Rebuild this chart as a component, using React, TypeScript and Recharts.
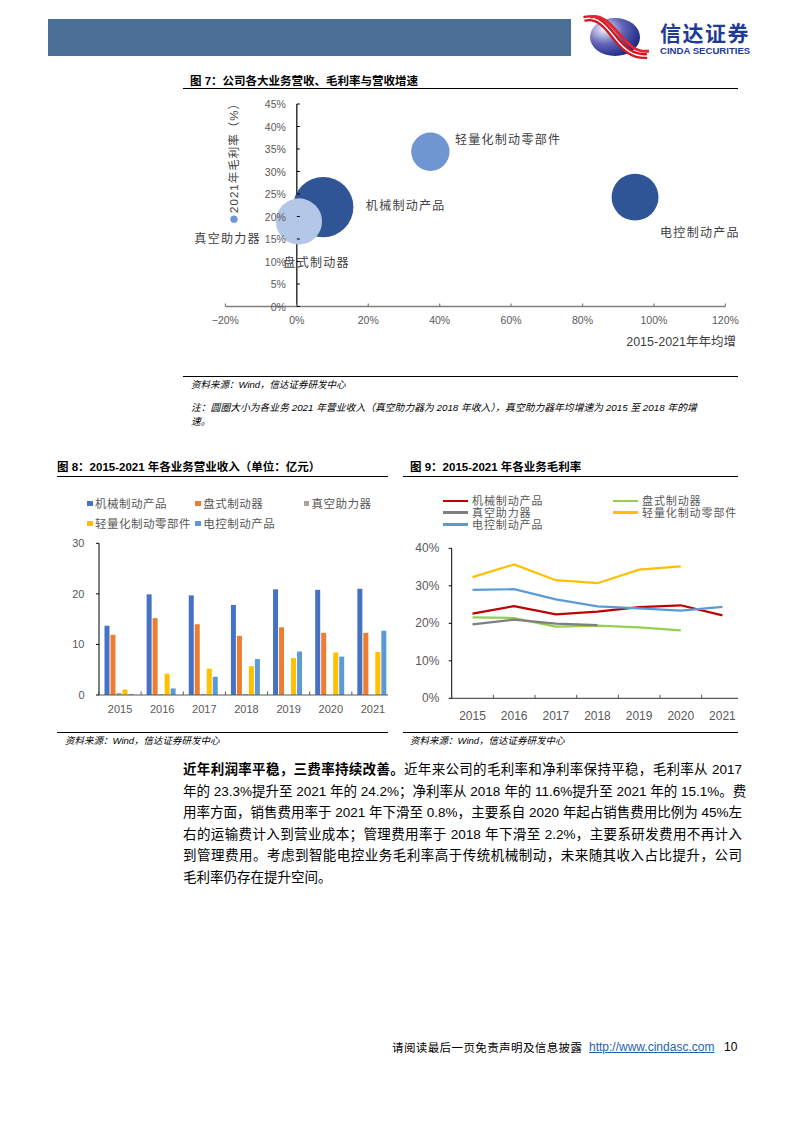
import React from 'react';
import {
  ScatterChart,
  Scatter,
  XAxis,
  YAxis,
  ZAxis,
  BarChart,
  Bar,
  LineChart,
  Line,
  Legend,
} from 'recharts';

// ---------------- Figure 7 data ----------------
const bubbleNames = ['机械制动产品', '盘式制动器', '轻量化制动零部件', '电控制动产品', '真空助力器'];
const bubbleGrowth = [7.4, 0.6, 37.4, 94.7, -17.6]; // 2015-2021 CAGR %
const bubbleMargin = [22.1, 18.9, 34.4, 24.3, 19.4]; // 2021 gross margin %
const bubbleRevenue = [21.0, 12.3, 8.5, 12.7, 0.3]; // revenue (bubble size)
const growthTicks = [-20, 0, 20, 40, 60, 80, 100, 120];
const marginTicks = [0, 5, 10, 15, 20, 25, 30, 35, 40, 45];

// ---------------- Figure 8 data ----------------
const years = ['2015', '2016', '2017', '2018', '2019', '2020', '2021'];
const seriesNames = ['机械制动产品', '盘式制动器', '真空助力器', '轻量化制动零部件', '电控制动产品'];
const revMech = [13.7, 19.9, 19.7, 17.8, 20.9, 20.8, 21.0];
const revDisc = [11.9, 15.2, 14.0, 11.7, 13.4, 12.3, 12.3];
const revVac = [0.4, 0.2, 0.2, 0.2, null, null, null];
const revLight = [1.1, 4.2, 5.2, 5.7, 7.3, 8.4, 8.5];
const revElec = [0.2, 1.3, 3.6, 7.1, 8.6, 7.6, 12.7];
const revTicks = [0, 10, 20, 30];

// ---------------- Figure 9 data ----------------
const gmMech = [22.6, 24.6, 22.4, 23.1, 24.3, 24.8, 22.1];
const gmDisc = [21.6, 21.4, 19.1, 19.4, 18.9, 18.1, null];
const gmVac = [19.7, 21.0, 19.9, 19.5, null, null, null];
const gmLight = [32.3, 35.7, 31.5, 30.7, 34.3, 35.2, null];
const gmElec = [28.9, 29.1, 26.4, 24.5, 24.0, 23.4, 24.4];
const gmTicks = [0, 10, 20, 30, 40];

// ---------------- styles / layout ----------------
const CJK = '"Noto Sans CJK SC", sans-serif';
const MIX = '"Liberation Sans", "Noto Sans CJK SC", sans-serif';
const LAT = '"Liberation Sans", Arial, sans-serif';
const bubbleColors = ['#2f5597', '#b4c7e7', '#7096d2', '#2f5597', '#6f95d6'];
const bubbleLabelOffset: Record<string, [number, number]> = {
  机械制动产品: [42.6, -2.7],
  盘式制动器: [-15.6, 40],
  轻量化制动零部件: [24.5, -13.7],
  电控制动产品: [25, 34.3],
  真空助力器: [-39.6, 18.3],
};
const barColors = ['#4472c4', '#ed7d31', '#a5a5a5', '#ffc000', '#5b9bd5'];
const lineColors = ['#c00000', '#92d050', '#7f7f7f', '#ffc000', '#5b9bd5'];

// scatter chart frame
const SC_W = 560;
const SC_H = 270;
const SC_MARGIN = { top: 14, right: 17.6, bottom: 23.5, left: 42.4 };
const SC_XAXIS_H = 30;
const SC_PLOT_H = SC_H - SC_MARGIN.top - SC_MARGIN.bottom - SC_XAXIS_H;

// ---------------- built tables ----------------
const bubbles = bubbleNames.map((name, i) => ({
  name,
  x: bubbleGrowth[i],
  y: bubbleMargin[i],
  z: bubbleRevenue[i],
}));
const yAxisOrigin = [{ x: 0, y: marginTicks[0], z: 0 }];
const yTickPoints = marginTicks.map((v) => ({ x: 0, y: v, z: 0 }));

const revenueRows = years.map((year, i) => ({
  year,
  mech: revMech[i],
  disc: revDisc[i],
  vac: revVac[i],
  light: revLight[i],
  elec: revElec[i],
}));
const marginRows = years.map((year, i) => ({
  year,
  mech: gmMech[i],
  disc: gmDisc[i],
  vac: gmVac[i],
  light: gmLight[i],
  elec: gmElec[i],
}));
const seriesKeys = ['mech', 'disc', 'vac', 'light', 'elec'];
const legendOrder = (item: any) => seriesNames.indexOf(item.value);

// ---------------- custom renderers ----------------
// value axis of the bubble chart, drawn at x = 0 from the origin up the full plot height
const AxisLineShape = (p: any) => (
  <line x1={p.cx} x2={p.cx} y1={p.cy} y2={p.cy - SC_PLOT_H} stroke="#000" strokeWidth={1.2} />
);

const BubbleShape = (p: any) => {
  const r = p.width ? p.width / 2 : Math.sqrt(Math.max(p.size || 0, 0) / Math.PI);
  const name = p.payload?.name;
  const off = bubbleLabelOffset[name] || [0, 0];
  const fill = bubbleColors[bubbleNames.indexOf(name)];
  return (
    <g>
      <circle cx={p.cx} cy={p.cy} r={r} fill={fill} />
      <text
        x={p.cx + off[0]}
        y={p.cy + off[1]}
        dominantBaseline="central"
        fontSize={12}
        letterSpacing={1.3}
        fill="#404040"
        fontFamily={CJK}
      >
        {name}
      </text>
    </g>
  );
};

const MarginTick = (p: any) => (
  <g>
    <line x1={p.cx} x2={p.cx + 3} y1={p.cy} y2={p.cy} stroke="#000" strokeWidth={1} />
    <text
      x={p.cx - 11}
      y={p.cy}
      textAnchor="end"
      dominantBaseline="central"
      fontSize={10.5}
      fill="#595959"
      fontFamily={LAT}
    >
      {`${p.payload.y}%`}
    </text>
  </g>
);

const fmtGrowth = (v: number) => (v < 0 ? `\u2212${Math.abs(v)}%` : `${v}%`);

const GrowthTick = (p: any) => (
  <g>
    <line x1={p.x} x2={p.x} y1={p.y} y2={p.y - 3} stroke="#7f7f7f" strokeWidth={1.2} />
    <text
      x={p.x}
      y={p.y + 13.5}
      textAnchor="middle"
      dominantBaseline="central"
      fontSize={10.5}
      fill="#595959"
      fontFamily={LAT}
    >
      {fmtGrowth(p.payload.value)}
    </text>
  </g>
);

const makeCatTick = (dyText: number, fontSize: number, fallbackHalf: number) => (p: any) => {
  const half = p.payload && p.payload.offset ? p.payload.offset : fallbackHalf;
  return (
    <g>
      <line x1={p.x - half} x2={p.x - half} y1={p.y} y2={p.y - 3.5} stroke="#595959" strokeWidth={1} />
      <text
        x={p.x}
        y={p.y + dyText}
        textAnchor="middle"
        dominantBaseline="central"
        fontSize={fontSize}
        fill="#595959"
        fontFamily={LAT}
      >
        {p.payload.value}
      </text>
    </g>
  );
};

const makeValueTick = (dxText: number, fontSize: number, suffix: string) => (p: any) => (
  <g>
    <line x1={p.x - 3} x2={p.x} y1={p.y} y2={p.y} stroke="#000" strokeWidth={1} />
    <text
      x={p.x - dxText}
      y={p.y}
      textAnchor="end"
      dominantBaseline="central"
      fontSize={fontSize}
      fill="#595959"
      fontFamily={LAT}
    >
      {`${p.payload.value}${suffix}`}
    </text>
  </g>
);

const sortPayload = (payload: any[]) =>
  [...(payload || [])].sort((a, b) => seriesNames.indexOf(a.value) - seriesNames.indexOf(b.value));

const BarLegend = (props: any) => (
  <div style={{ display: 'flex', flexWrap: 'wrap', width: 330 }}>
    {sortPayload(props.payload).map((item: any) => (
      <div
        key={item.value}
        style={{ width: 108.3, height: 20, display: 'flex', alignItems: 'center' }}
      >
        <span
          style={{ width: 5.5, height: 5.5, background: item.color, marginRight: 2.5, flex: 'none' }}
        />
        <span
          style={{
            fontSize: 11.5,
            color: '#595959',
            letterSpacing: 0.5,
            fontFamily: CJK,
            whiteSpace: 'nowrap',
            lineHeight: '14px',
          }}
        >
          {item.value}
        </span>
      </div>
    ))}
  </div>
);

const LineLegend = (props: any) => (
  <div style={{ display: 'flex', flexWrap: 'wrap', width: 340 }}>
    {sortPayload(props.payload).map((item: any) => (
      <div
        key={item.value}
        style={{ width: 170, height: 11.7, display: 'flex', alignItems: 'center' }}
      >
        <span
          style={{ width: 25, height: 2.5, background: item.color, marginRight: 4, flex: 'none' }}
        />
        <span
          style={{
            fontSize: 11,
            color: '#595959',
            letterSpacing: 0.9,
            fontFamily: CJK,
            whiteSpace: 'nowrap',
            lineHeight: '11.7px',
          }}
        >
          {item.value}
        </span>
      </div>
    ))}
  </div>
);

// ---------------- page helpers ----------------
const abs = (left: number, top: number, extra: React.CSSProperties = {}): React.CSSProperties => ({
  position: 'absolute',
  left,
  top,
  ...extra,
});

const paragraphLines = [
  '年的 23.3%提升至 2021 年的 24.2%；净利率从 2018 年的 11.6%提升至 2021 年的 15.1%。费',
  '用率方面，销售费用率于 2021 年下滑至 0.8%，主要系自 2020 年起占销售费用比例为 45%左',
  '右的运输费计入到营业成本；管理费用率于 2018 年下滑至 2.2%，主要系研发费用不再计入',
  '到管理费用。考虑到智能电控业务毛利率高于传统机械制动，未来随其收入占比提升，公司',
];

const Hr = ({ left, top, width }: { left: number; top: number; width: number }) => (
  <div style={abs(left, top, { width, height: 0, borderTop: '1.3px solid #000' })} />
);

const Title = ({ left, top, text }: { left: number; top: number; text: string }) => (
  <div
    style={abs(left, top, {
      fontFamily: MIX,
      fontWeight: 700,
      fontSize: 11.5,
      lineHeight: '14px',
      color: '#000',
      whiteSpace: 'nowrap',
    })}
  >
    {text}
  </div>
);

const Source = ({ left, top, text }: { left: number; top: number; text: string }) => (
  <div
    style={abs(left, top, {
      fontFamily: MIX,
      fontStyle: 'italic',
      fontSize: 9.5,
      lineHeight: '12px',
      color: '#000',
      whiteSpace: 'nowrap',
    })}
  >
    {text}
  </div>
);

const paraStyle: React.CSSProperties = {
  width: 559,
  fontFamily: MIX,
  fontSize: 13.5,
  lineHeight: '21.5px',
  color: '#000',
  whiteSpace: 'nowrap',
  textAlign: 'justify',
  textAlignLast: 'justify',
};

export default function App() {
  return (
    <div
      style={{
        position: 'absolute',
        left: 0,
        top: 0,
        width: 794,
        height: 1123,
        background: '#fff',
        overflow: 'hidden',
      }}
    >
      {/* header */}
      <div style={abs(48, 19, { width: 523, height: 37, background: '#4b6f96' })} />
      <svg style={abs(581, 13)} width={76} height={48}>
        <defs>
          <radialGradient id="logoGrad" cx="28%" cy="30%" r="85%">
            <stop offset="0" stopColor="#f1f1fa" />
            <stop offset="0.45" stopColor="#6366b8" />
            <stop offset="1" stopColor="#0c1a78" />
          </radialGradient>
        </defs>
        <ellipse cx={34} cy={24} rx={25} ry={19} fill="url(#logoGrad)" />
        <path d="M3 6 C 18 2, 27 16, 35 26 S 52 44, 66 43" stroke="#d7141c" strokeWidth={6} fill="none" />
        <path d="M3 6 C 18 2, 27 16, 35 26 S 52 44, 66 43" stroke="#ffffff" strokeWidth={1.4} fill="none" />
        <path d="M9 4 C 22 1, 31 13, 39 22 S 55 40, 68 38" stroke="#e0262e" strokeWidth={3} fill="none" />
      </svg>
      <div
        style={abs(660, 21, {
          fontFamily: CJK,
          fontWeight: 700,
          fontSize: 21,
          lineHeight: '22px',
          height: 22,
          color: '#1f3c94',
          letterSpacing: 1.5,
          whiteSpace: 'nowrap',
        })}
      >
        信达证券
      </div>
      <div
        style={abs(660, 45.5, {
          fontFamily: LAT,
          fontWeight: 700,
          fontSize: 9.6,
          lineHeight: '9px',
          height: 9,
          color: '#1f3c94',
          whiteSpace: 'nowrap',
        })}
      >
        CINDA SECURITIES
      </div>

      {/* Figure 7 */}
      <Title left={190} top={74} text="图 7：公司各大业务营收、毛利率与营收增速" />
      <Hr left={183} top={88} width={555} />
      <div style={abs(183, 90)}>
        <ScatterChart width={SC_W} height={SC_H} margin={SC_MARGIN}>
          <XAxis
            type="number"
            dataKey="x"
            domain={[-20, 120]}
            ticks={growthTicks}
            interval={0}
            height={SC_XAXIS_H}
            axisLine={{ stroke: '#7f7f7f', strokeWidth: 1.5 }}
            tickLine={false}
            tickSize={0}
            tickMargin={0}
            tick={(p: any) => <GrowthTick {...p} />}
          />
          <YAxis type="number" dataKey="y" domain={[0, 45]} hide />
          <ZAxis type="number" dataKey="z" domain={[0, 25]} range={[0, 3400]} />
          <Scatter data={yAxisOrigin} shape={AxisLineShape} isAnimationActive={false} />
          <Scatter data={bubbles} shape={BubbleShape} isAnimationActive={false} />
          <Scatter data={yTickPoints} shape={MarginTick} isAnimationActive={false} />
        </ScatterChart>
      </div>
      <div
        style={abs(234, 155, {
          transform: 'translate(-50%, -50%) rotate(-90deg)',
          fontFamily: MIX,
          fontSize: 11.5,
          color: '#404040',
          letterSpacing: 1,
          whiteSpace: 'nowrap',
          lineHeight: '14px',
        })}
      >
        2021年毛利率（%）
      </div>
      <div
        style={abs(590, 334, {
          width: 146,
          textAlign: 'right',
          fontFamily: MIX,
          fontSize: 12.5,
          color: '#404040',
          whiteSpace: 'nowrap',
          lineHeight: '16px',
        })}
      >
        2015-2021年年均增
      </div>
      <Hr left={183} top={376} width={555} />
      <Source left={191} top={379} text="资料来源：Wind，信达证券研发中心" />
      <div
        style={abs(191, 401, {
          fontFamily: MIX,
          fontStyle: 'italic',
          fontSize: 9.8,
          lineHeight: '14px',
          color: '#000',
          whiteSpace: 'nowrap',
        })}
      >
        注：圆圈大小为各业务 2021 年营业收入（真空助力器为 2018 年收入），真空助力器年均增速为 2015 至 2018 年的增
        <br />
        速。
      </div>

      {/* Figure 8 */}
      <Title left={57} top={460} text="图 8：2015-2021 年各业务营业收入（单位：亿元）" />
      <Hr left={57} top={476} width={331} />
      <div style={abs(57, 490, { width: 331, height: 240, overflow: 'hidden' })}>
        <BarChart
          width={345}
          height={235}
          data={revenueRows}
          margin={{ top: 53.3, right: 8, bottom: 0, left: 12 }}
          barCategoryGap="13%"
          barGap={1}
        >
          <XAxis
            dataKey="year"
            height={30}
            interval={0}
            axisLine={{ stroke: '#595959', strokeWidth: 1.2 }}
            tickLine={false}
            tickSize={0}
            tickMargin={0}
            tick={makeCatTick(14, 11, 21)}
          />
          <YAxis
            type="number"
            domain={[0, 30]}
            ticks={revTicks}
            interval={0}
            width={30}
            axisLine={{ stroke: '#000', strokeWidth: 1 }}
            tickLine={false}
            tickSize={0}
            tickMargin={0}
            tick={makeValueTick(14.5, 11, '')}
          />
          <Legend
            layout="horizontal"
            verticalAlign="middle"
            align="center"
            itemSorter={legendOrder}
            wrapperStyle={{ top: 3.3, left: 30, width: 330 }}
            content={BarLegend}
          />
          {seriesKeys.map((k, i) => (
            <Bar key={k} dataKey={k} name={seriesNames[i]} fill={barColors[i]} isAnimationActive={false} />
          ))}
        </BarChart>
      </div>
      <Hr left={57} top={732} width={331} />
      <Source left={65} top={735} text="资料来源：Wind，信达证券研发中心" />

      {/* Figure 9 */}
      <Title left={410} top={460} text="图 9：2015-2021 年各业务毛利率" />
      <Hr left={403} top={476} width={335} />
      <div style={abs(403, 490, { width: 335, height: 240, overflow: 'hidden' })}>
        <LineChart
          width={350}
          height={238.3}
          data={marginRows}
          margin={{ top: 58.3, right: 9.75, bottom: 0, left: 18.7 }}
        >
          <XAxis
            dataKey="year"
            height={30}
            interval={0}
            padding={{ left: 20.8, right: 20.8 }}
            axisLine={{ stroke: '#595959', strokeWidth: 1.2 }}
            tickLine={false}
            tickSize={0}
            tickMargin={0}
            tick={makeCatTick(17.4, 12, 20.8)}
          />
          <YAxis
            type="number"
            domain={[0, 40]}
            ticks={gmTicks}
            interval={0}
            width={30}
            axisLine={{ stroke: '#000', strokeWidth: 1 }}
            tickLine={false}
            tickSize={0}
            tickMargin={0}
            tick={makeValueTick(12.4, 12, '%')}
          />
          <Legend
            layout="horizontal"
            verticalAlign="middle"
            align="center"
            itemSorter={legendOrder}
            wrapperStyle={{ top: 5.2, left: 40, width: 340 }}
            content={LineLegend}
          />
          {seriesKeys.map((k, i) => (
            <Line
              key={k}
              type="linear"
              dataKey={k}
              name={seriesNames[i]}
              stroke={lineColors[i]}
              strokeWidth={2.2}
              dot={false}
              activeDot={false}
              connectNulls={false}
              isAnimationActive={false}
            />
          ))}
        </LineChart>
      </div>
      <Hr left={403} top={732} width={335} />
      <Source left={410} top={735} text="资料来源：Wind，信达证券研发中心" />

      {/* paragraph */}
      <div style={abs(183, 759.3, paraStyle)}>
        <b>近年利润率平稳，三费率持续改善。</b>近年来公司的毛利率和净利率保持平稳，毛利率从 2017
      </div>
      {paragraphLines.map((line, i) => (
        <div key={i} style={abs(183, 759.3 + 21.5 * (i + 1), paraStyle)}>
          {line}
        </div>
      ))}
      <div
        style={abs(183, 759.3 + 21.5 * 5, {
          fontFamily: MIX,
          fontSize: 13.5,
          lineHeight: '21.5px',
          color: '#000',
          whiteSpace: 'nowrap',
        })}
      >
        毛利率仍存在提升空间。
      </div>

      {/* footer */}
      <div
        style={abs(392, 1040, {
          fontFamily: CJK,
          fontSize: 11.5,
          lineHeight: '14px',
          color: '#000',
          letterSpacing: 0.4,
          whiteSpace: 'nowrap',
        })}
      >
        请阅读最后一页免责声明及信息披露
      </div>
      <a
        href="http://www.cindasc.com"
        style={abs(589, 1040, {
          fontFamily: LAT,
          fontSize: 12,
          lineHeight: '14px',
          color: '#1f5fb4',
          textDecoration: 'underline',
          whiteSpace: 'nowrap',
        })}
      >
        http://www.cindasc.com
      </a>
      <div
        style={abs(724, 1040, {
          fontFamily: LAT,
          fontSize: 12,
          lineHeight: '14px',
          color: '#000',
          whiteSpace: 'nowrap',
        })}
      >
        10
      </div>
    </div>
  );
}
